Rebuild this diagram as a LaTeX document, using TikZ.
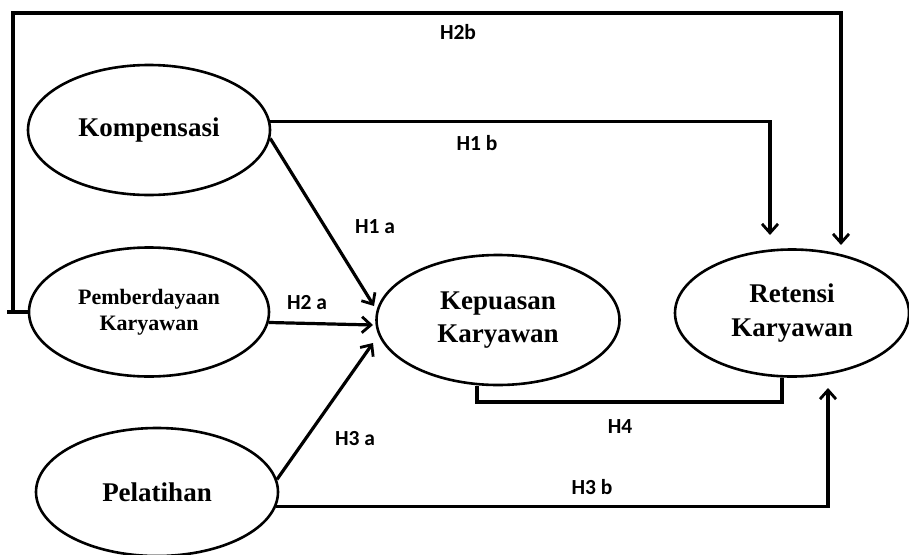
\documentclass[tikz,border=0pt]{standalone}
\usepackage{fontspec}
\setmainfont{Liberation Serif}
\newfontfamily\labfont{Carlito}
\usetikzlibrary{shapes.geometric,arrows.meta}
\begin{document}
\begin{tikzpicture}[x=1pt,y=-1pt,
  var/.style={ellipse,draw,line width=2.6pt,inner sep=0pt,align=center,font=\bfseries},
  conn/.style={line width=3.2pt,line join=miter},
  arr/.style={conn,-{Straight Barb[length=9pt,width=16pt,line width=2.8pt]}},
  lab/.style={font=\labfont\bfseries\fontsize{21.5}{24}\selectfont,inner sep=0pt}]
\useasboundingbox[fill=white] (0,0) rectangle (909,554);
% variables
\node[var,minimum width=242pt,minimum height=130pt,font=\bfseries\fontsize{27}{30}\selectfont] (komp) at (149,130) {Kompensasi};
\node[var,minimum width=240pt,minimum height=129pt,font=\bfseries\fontsize{22}{26}\selectfont] (pem) at (149,312) {Pemberdayaan\\Karyawan};
\node[var,minimum width=242pt,minimum height=128pt,font=\bfseries\fontsize{27}{30}\selectfont] (pel) at (157,492) {Pelatihan};
\node[var,minimum width=243pt,minimum height=130pt,font=\bfseries\fontsize{27}{33}\selectfont] (kep) at (498,320) {Kepuasan\\Karyawan};
\node[var,minimum width=234pt,minimum height=127pt,font=\bfseries\fontsize{27}{34}\selectfont] (ret) at (792,313) {Retensi\\Karyawan};
% free ends
\coordinate (h1atip) at (374,306);
\coordinate (h2atip) at (373,325);
\coordinate (h3atip) at (373,343);
\coordinate (h1btip) at (770,235);
\coordinate (h3btip) at (828,388);
\coordinate (h2bstub) at (7,312);
\coordinate (h2bl) at (13,13);
\coordinate (h2br) at (841,13);
\coordinate (h2btip) at (841,245);
\coordinate (h4l) at (477,402);
\coordinate (h4r) at (782,402);
% connectors
\draw[arr] (komp.-4) -- (h1atip);
\draw[arr] (pem.-5) -- (h2atip);
\draw[arr] (pel.6) -- (h3atip);
\draw[arr] (komp.4) -| (h1btip);
\draw[arr] (pel.-7) -| (h3btip);
\draw[conn] (h2bstub) -- (pem.west);
\draw[arr] (h2bstub -| h2bl) -- (h2bl) -- (h2br) -- (h2btip);
\draw[conn] (h4l |- kep.south) -- (h4l) -- (h4r) -- (h4r |- ret.south);
% labels
\node[lab] (lh2b) at (458,32) {H2b};
\node[lab] (lh1b) at (477,143) {H1 b};
\node[lab] (lh1a) at (375,227) {H1 a};
\node[lab] (lh2a) at (307,303) {H2 a};
\node[lab] (lh3a) at (355,439) {H3 a};
\node[lab] (lh4) at (620,427) {H4};
\node[lab] (lh3b) at (592,487) {H3 b};
\end{tikzpicture}
\end{document}
